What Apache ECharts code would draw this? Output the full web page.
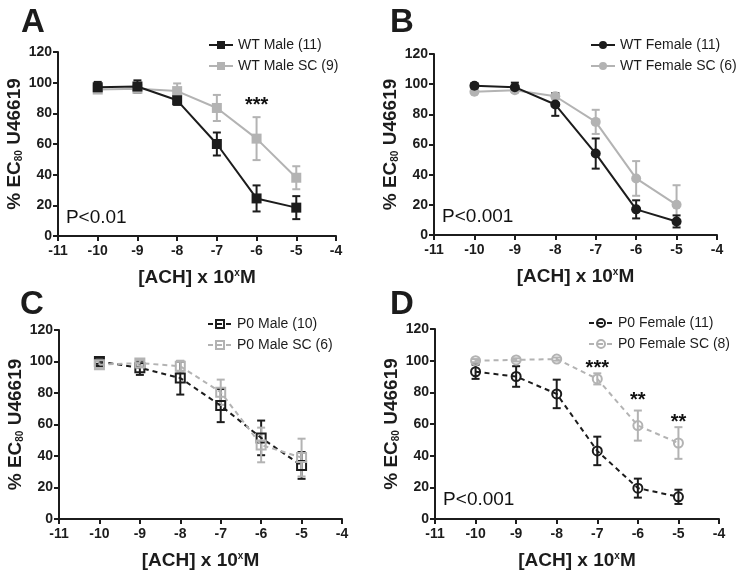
<!DOCTYPE html>
<html>
<head>
<meta charset="utf-8">
<script src="https://cdn.jsdelivr.net/npm/echarts@6/dist/echarts.min.js"></script>
<style>
  html, body { margin: 0; padding: 0; background: #fff; }
  #chart { width: 740px; height: 573px; }
</style>
</head>
<body>
<div id="chart"></div>
<script>
// log10 [ACH] doses
var doses = [-10, -9, -8, -7, -6, -5];
var xTicks = [-11, -10, -9, -8, -7, -6, -5, -4];

// A: WT male
var wtMale = [97, 97.5, 88.5, 60, 24.5, 18.5];
var wtMaleErr = [3.5, 4, 3, 7.5, 8.5, 7.5];
var wtMaleSC = [95.5, 96, 94.5, 83.5, 63.5, 38];
var wtMaleSCErr = [2, 2, 5, 8.5, 14, 7.5];

// B: WT female
var wtFemale = [99, 98, 86.5, 54, 17, 9];
var wtFemaleErr = [1.5, 3, 7.5, 10, 6, 4];
var wtFemaleSC = [95, 96, 92, 75, 37.5, 20];
var wtFemaleSCErr = [1, 1.5, 2, 8, 11.5, 13];

// C: P0 male
var p0Male = [100, 96, 89.5, 72, 51.5, 34];
var p0MaleErr = [1.5, 4.5, 10.5, 10.5, 11, 8.5];
var p0MaleSC = [98, 99, 97, 80.5, 47, 39];
var p0MaleSCErr = [2, 2, 3.5, 8, 11, 12];

// D: P0 female
var p0Female = [93, 90, 79, 43, 19.5, 14];
var p0FemaleErr = [4.5, 6.5, 9, 9, 6, 4.5];
var p0FemaleSC = [100, 100.5, 101, 88.5, 59, 48];
var p0FemaleSCErr = [1, 1, 1, 3.5, 9.5, 10];

// significance marks [x, y, text]
var starsA = [[-6, 85, '***']];
var starsD = [[-7, 95, '***'], [-6, 75, '**'], [-5, 61, '**']];
var pVals = ['P<0.01', 'P<0.001', '', 'P<0.001'];

var BLACK = '#1c1c1c', GREY = '#b3b3b3';
var FONT = 'Liberation Sans';

var grids = [
  { left: 58, top: 52, width: 278, height: 184 },
  { left: 434, top: 54, width: 283, height: 181 },
  { left: 59, top: 330, width: 283, height: 189 },
  { left: 435, top: 329, width: 284, height: 190 }
];

function pts(vals) { return doses.map(function (d, i) { return [d, vals[i]]; }); }
function errPts(vals, errs) { return doses.map(function (d, i) { return [d, vals[i], errs[i]]; }); }

function errSeries(idx, vals, errs, color) {
  return {
    type: 'custom', xAxisIndex: idx, yAxisIndex: idx, z: 1,
    data: errPts(vals, errs),
    renderItem: function (params, api) {
      var x = api.value(0), y = api.value(1), e = api.value(2);
      var hi = api.coord([x, y + e]), lo = api.coord([x, y - e]);
      var w = 4;
      var st = { stroke: color, lineWidth: 2 };
      return {
        type: 'group', children: [
          { type: 'line', shape: { x1: hi[0], y1: hi[1], x2: lo[0], y2: lo[1] }, style: st },
          { type: 'line', shape: { x1: hi[0] - w, y1: hi[1], x2: hi[0] + w, y2: hi[1] }, style: st },
          { type: 'line', shape: { x1: lo[0] - w, y1: lo[1], x2: lo[0] + w, y2: lo[1] }, style: st }
        ]
      };
    }
  };
}

function lineSeries(idx, name, vals, color, symbol, dashed, z) {
  var hollow = symbol !== 'rect' && symbol !== 'circle';
  return {
    type: 'line', name: name, xAxisIndex: idx, yAxisIndex: idx, z: z,
    data: pts(vals),
    symbol: hollow ? (symbol === 'hrect' ? 'rect' : 'circle') : symbol,
    symbolSize: hollow ? 9 : 10,
    showAllSymbol: true,
    lineStyle: { color: color, width: 2, type: dashed ? [5, 4] : 'solid' },
    itemStyle: hollow
      ? { color: 'rgba(255,255,255,0)', borderColor: color, borderWidth: 2 }
      : { color: color, borderWidth: 0 },
    emphasis: { disabled: true }
  };
}

function textSeries(idx, items, size, bold, pos) {
  return {
    type: 'scatter', xAxisIndex: idx, yAxisIndex: idx, symbolSize: 0, z: 5,
    data: items.map(function (it) { return { value: [it[0], it[1]], txt: it[2] }; }),
    itemStyle: { opacity: 1 },
    label: {
      show: true, position: pos, distance: 0, color: '#111', opacity: 1,
      fontFamily: FONT, fontSize: size, fontWeight: bold ? 'bold' : 'normal',
      formatter: function (p) { return p.data.txt; }
    },
    silent: true
  };
}

var xAxes = [], yAxes = [];
grids.forEach(function (g, i) {
  xAxes.push({
    type: 'value', gridIndex: i, min: -11, max: -4, interval: 1,
    axisLine: { lineStyle: { color: BLACK, width: 2 } },
    axisTick: { length: 5, lineStyle: { width: 2, color: BLACK } },
    splitLine: { show: false },
    axisLabel: { color: BLACK, fontFamily: FONT, fontSize: 14, fontWeight: 'bold', margin: 8,
      formatter: function (v) { return xTicks.indexOf(v) >= 0 ? String(v) : ''; } },
    name: '[ACH] x 10{sup|x}M', nameLocation: 'middle', nameGap: 32,
    nameTextStyle: { color: BLACK, fontFamily: FONT, fontSize: 19, fontWeight: 'bold',
      rich: { sup: { fontFamily: FONT, fontSize: 10, fontWeight: 'bold', color: BLACK, padding: [0, 0, 8, 0] } } }
  });
  yAxes.push({
    type: 'value', gridIndex: i, min: 0, max: 120, interval: 20,
    axisLine: { show: true, lineStyle: { color: BLACK, width: 2 } },
    axisTick: { show: true, length: 5, lineStyle: { width: 2, color: BLACK } },
    splitLine: { show: false },
    axisLabel: { color: BLACK, fontFamily: FONT, fontSize: 14, fontWeight: 'bold', margin: 6 },
    name: '% EC{sub|80} U46619', nameLocation: 'middle', nameGap: 32, nameRotate: 90,
    nameTextStyle: { color: BLACK, fontFamily: FONT, fontSize: 19, fontWeight: 'bold',
      rich: { sub: { fontFamily: FONT, fontSize: 10, fontWeight: 'bold', color: BLACK, padding: [8, 0, 0, 0] } } }
  });
});

var legendText = { color: BLACK, fontFamily: FONT, fontSize: 14 };
var legends = [
  { left: 203, top: 33, names: ['WT Male (11)', 'WT Male SC (9)'] },
  { left: 585, top: 33, names: ['WT Female (11)', 'WT Female SC (6)'] },
  { left: 202, top: 312, names: ['P0 Male (10)', 'P0 Male SC (6)'] },
  { left: 583, top: 311, names: ['P0 Female (11)', 'P0 Female SC (8)'] }
].map(function (l) {
  return { orient: 'vertical', left: l.left, top: l.top, itemWidth: 24, itemHeight: 10,
    itemGap: 7, data: l.names, textStyle: legendText, selectedMode: false };
});

var letters = ['A', 'B', 'C', 'D'];
var letterPos = [[16, 1], [385, 1], [15, 283], [385, 283]];

var series = [
  errSeries(0, wtMaleSC, wtMaleSCErr, GREY),
  lineSeries(0, 'WT Male SC (9)', wtMaleSC, GREY, 'rect', false, 2),
  errSeries(0, wtMale, wtMaleErr, BLACK),
  lineSeries(0, 'WT Male (11)', wtMale, BLACK, 'rect', false, 3),

  errSeries(1, wtFemaleSC, wtFemaleSCErr, GREY),
  lineSeries(1, 'WT Female SC (6)', wtFemaleSC, GREY, 'circle', false, 2),
  errSeries(1, wtFemale, wtFemaleErr, BLACK),
  lineSeries(1, 'WT Female (11)', wtFemale, BLACK, 'circle', false, 3),

  errSeries(2, p0Male, p0MaleErr, BLACK),
  lineSeries(2, 'P0 Male (10)', p0Male, BLACK, 'hrect', true, 2),
  errSeries(2, p0MaleSC, p0MaleSCErr, GREY),
  lineSeries(2, 'P0 Male SC (6)', p0MaleSC, GREY, 'hrect', true, 3),

  errSeries(3, p0FemaleSC, p0FemaleSCErr, GREY),
  lineSeries(3, 'P0 Female SC (8)', p0FemaleSC, GREY, 'hcircle', true, 2),
  errSeries(3, p0Female, p0FemaleErr, BLACK),
  lineSeries(3, 'P0 Female (11)', p0Female, BLACK, 'hcircle', true, 3),

  textSeries(0, starsA, 20, true, 'inside'),
  textSeries(3, starsD, 20, true, 'inside')
];
pVals.forEach(function (p, i) {
  if (p) series.push(textSeries(i, [[-10.8, 12, p]], 19, false, 'right'));
});

var chart = echarts.init(document.getElementById('chart'));
chart.setOption({
  animation: false,
  backgroundColor: '#fff',
  title: letters.map(function (t, i) {
    return { text: t, left: letterPos[i][0], top: letterPos[i][1],
      textStyle: { color: BLACK, fontFamily: FONT, fontSize: 33, fontWeight: 'bold' } };
  }),
  grid: grids,
  xAxis: xAxes,
  yAxis: yAxes,
  legend: legends,
  series: series
});
</script>
</body>
</html>
